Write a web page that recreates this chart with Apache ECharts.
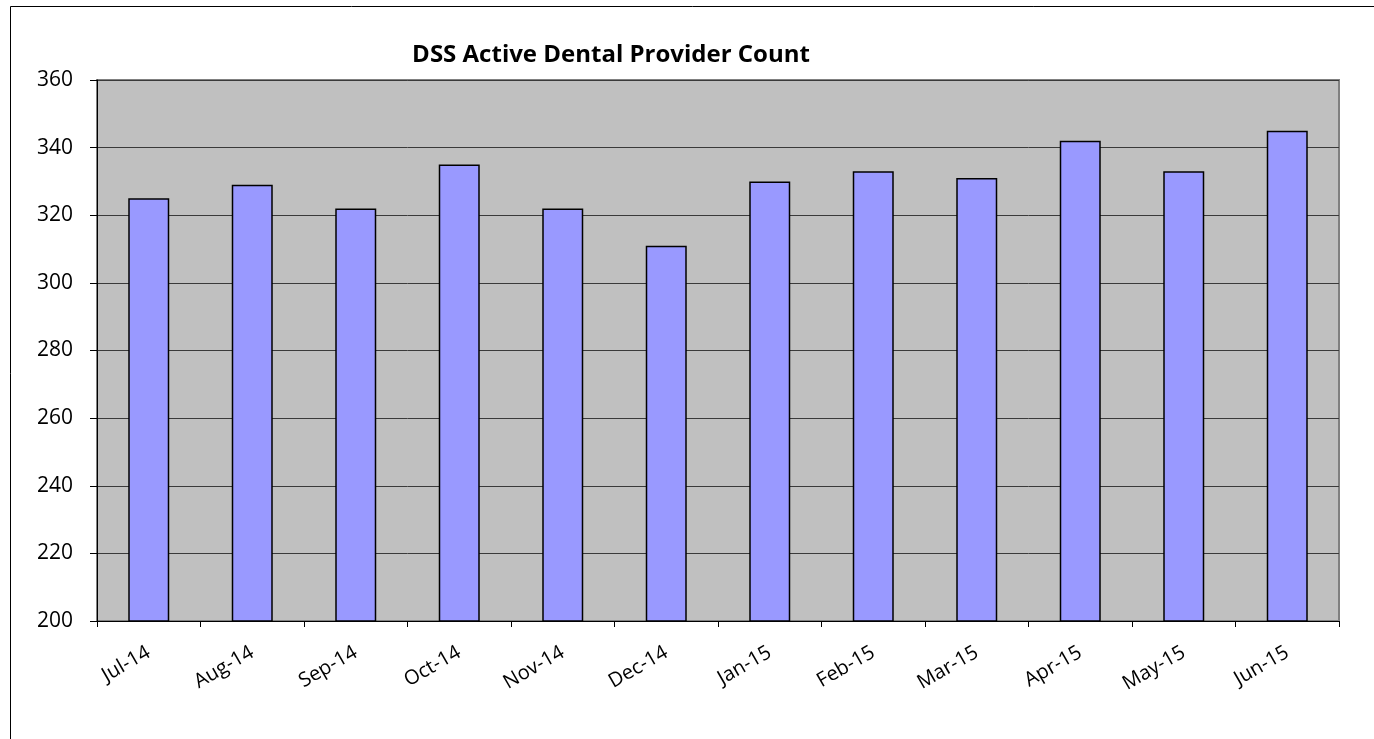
<!DOCTYPE html>
<html>
<head>
<meta charset="utf-8">
<script src="https://cdn.jsdelivr.net/npm/echarts@6/dist/echarts.min.js"></script>
<style>
  html, body { margin: 0; padding: 0; background: #fff; }
  #chart { width: 1374px; height: 739px; }
</style>
</head>
<body>
<div id="chart"></div>
<script>
// data
const months = ['Jul-14', 'Aug-14', 'Sep-14', 'Oct-14', 'Nov-14', 'Dec-14',
                'Jan-15', 'Feb-15', 'Mar-15', 'Apr-15', 'May-15', 'Jun-15']
const providerCount = [325, 329, 322, 335, 322, 311, 330, 333, 331, 342, 333, 345]

const chart = echarts.init(document.getElementById('chart'))

const option = {
    animation: false,
    title: {
        text: 'DSS Active Dental Provider Count',
        left: 606,
        top: 38,
        textAlign: 'center',
        textStyle: {
            fontFamily: 'Open Sans',
            fontWeight: 'bold',
            fontSize: 24,
            color: '#000'
        }
    },
    grid: {
        left: 97,
        right: 35,
        top: 80,
        bottom: 118,
        show: true,
        backgroundColor: '#c0c0c0',
        borderColor: '#808080',
        borderWidth: 2
    },
    xAxis: {
        type: 'category',
        data: months,
        axisLine: { lineStyle: { color: '#000', width: 1 } },
        axisTick: { show: true, length: 6, lineStyle: { color: '#000' } },
        axisLabel: {
            rotate: 30,
            margin: 30,
            fontFamily: 'Open Sans',
            fontSize: 20,
            color: '#000'
        }
    },
    yAxis: {
        type: 'value',
        min: 200,
        max: 360,
        interval: 20,
        axisLine: { show: true, lineStyle: { color: '#000' } },
        axisTick: { show: true, length: 7, lineStyle: { color: '#000' } },
        axisLabel: {
            margin: 24,
            fontFamily: 'Open Sans',
            fontSize: 21,
            color: '#000'
        },
        splitLine: { lineStyle: { color: '#3a3a3a', width: 1 } }
    },
    series: [
        {
            type: 'bar',
            data: providerCount,
            barWidth: 41,
            itemStyle: {
                color: '#9999ff',
                borderColor: '#000',
                borderWidth: 1.5
            }
        }
    ],
    graphic: [
        {
            type: 'rect',
            shape: { x: 10.5, y: 6.5, width: 1400, height: 800 },
            style: { fill: 'none', stroke: '#000', lineWidth: 1 },
            silent: true
        }
    ]
}

chart.setOption(option)
</script>
</body>
</html>
